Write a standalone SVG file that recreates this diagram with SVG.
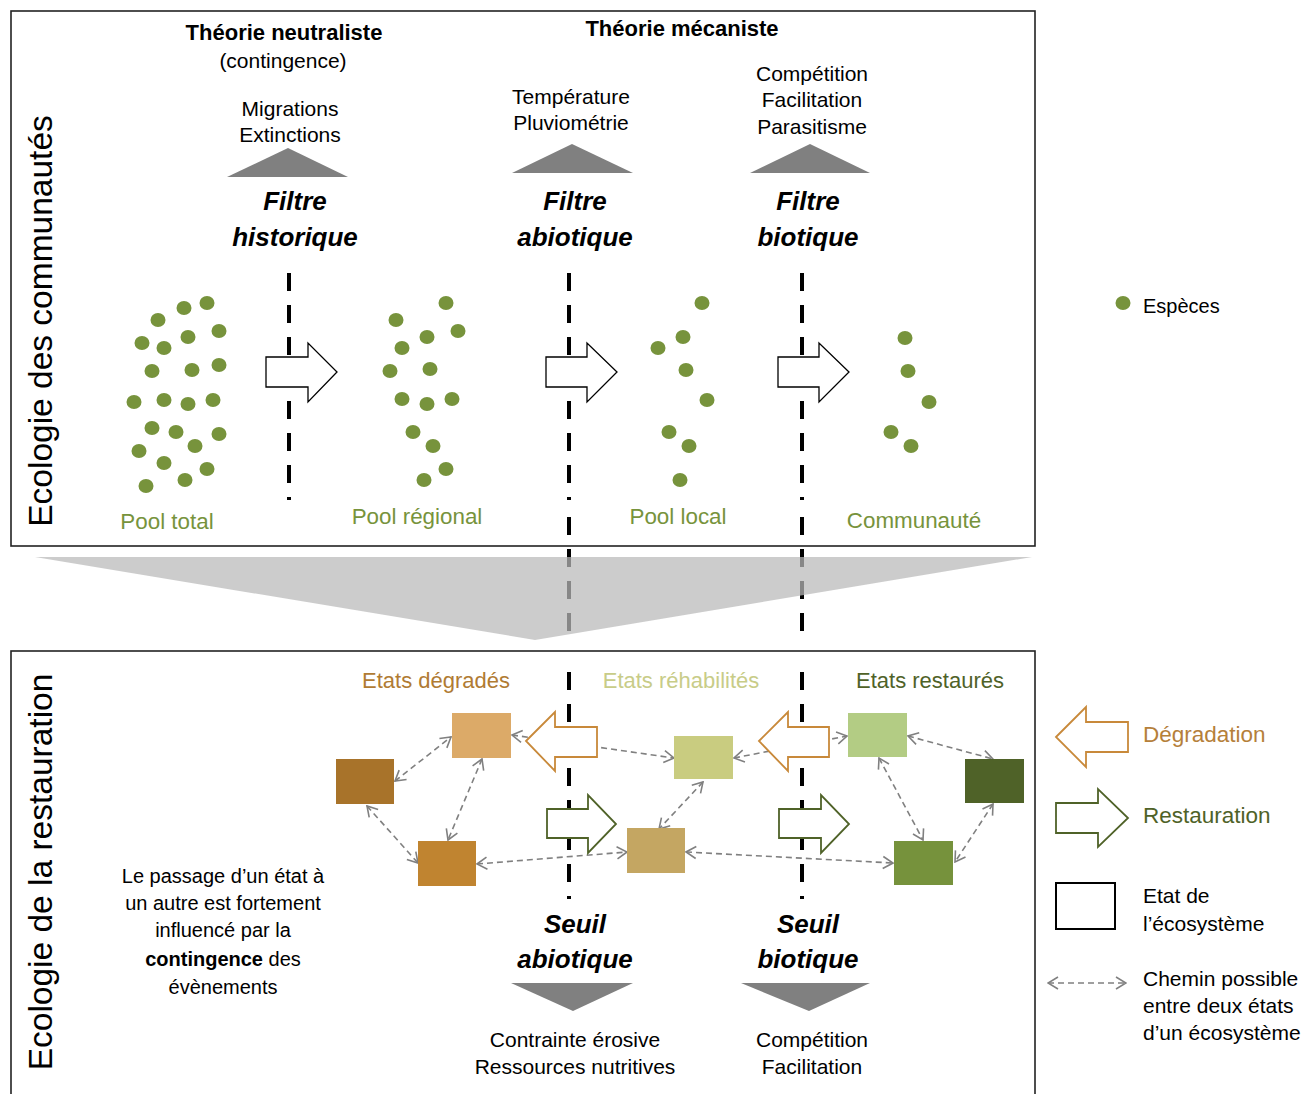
<svg xmlns="http://www.w3.org/2000/svg" width="1312" height="1094" viewBox="0 0 1312 1094">
<defs>
<style>
text{font-family:"Liberation Sans",Arial,sans-serif;fill:#000}
.t{font-size:21px}
.b{font-weight:bold}
.hb{font-size:22px;font-weight:bold}
.bi{font-weight:bold;font-style:italic;font-size:26px}
.c{text-anchor:middle}
.pool{font-size:22.4px;fill:#77933C}
.dot{fill:#77933C}
.filt{stroke:#000;stroke-width:4;stroke-dasharray:18 14;fill:none}
.tri{fill:#808080}
.hol{fill:#fff;stroke:#000;stroke-width:1.3}
.deg{fill:#fff;stroke:#C8893A;stroke-width:1.8}
.res{fill:#fff;stroke:#4F6228;stroke-width:1.8}
.path{stroke:#808080;stroke-width:1.6;stroke-dasharray:6 4;fill:none;marker-start:url(#v);marker-end:url(#v)}
.vert{font-size:33.5px}
.et{font-size:22px}
</style>
<marker id="v" viewBox="0 0 12 14" refX="11" refY="7" markerWidth="12" markerHeight="14" markerUnits="userSpaceOnUse" orient="auto-start-reverse">
<path d="M1,1 L11,7 L1,13" fill="none" stroke="#808080" stroke-width="1.6"/>
</marker>
</defs>

<!-- panels -->
<g id="panel-top">
<rect x="11" y="11" width="1024" height="535" fill="#fff" stroke="#222" stroke-width="1.6"/>
<text class="vert" transform="translate(52,321) rotate(-90)" text-anchor="middle">Ecologie des communautés</text>
</g>
<g id="panel-bottom">
<rect x="11" y="651" width="1024" height="460" fill="#fff" stroke="#222" stroke-width="1.6"/>
<text class="vert" transform="translate(52,872) rotate(-90)" text-anchor="middle">Ecologie de la restauration</text>
</g>

<!-- headers -->
<g id="theorie-neutraliste">
<text class="hb c" x="284" y="40">Théorie neutraliste</text>
<text class="t c" x="283" y="68">(contingence)</text>
</g>
<g id="theorie-mecaniste">
<text class="hb c" x="682" y="36">Théorie mécaniste</text>
</g>

<!-- filters -->
<g id="filtre-historique">
<text class="t c" x="290" y="116">Migrations</text>
<text class="t c" x="290" y="142">Extinctions</text>
<polygon class="tri" points="227,177 288,148 348,177"/>
<text class="bi c" x="295" y="210">Filtre</text>
<text class="bi c" x="295" y="246">historique</text>
</g>
<g id="filtre-abiotique">
<text class="t c" x="571" y="104">Température</text>
<text class="t c" x="571" y="130">Pluviométrie</text>
<polygon class="tri" points="512,173 572,144 633,173"/>
<text class="bi c" x="575" y="210">Filtre</text>
<text class="bi c" x="575" y="246">abiotique</text>
</g>
<g id="filtre-biotique">
<text class="t c" x="812" y="81">Compétition</text>
<text class="t c" x="812" y="107">Facilitation</text>
<text class="t c" x="812" y="134">Parasitisme</text>
<polygon class="tri" points="750,173 810,144 870,173"/>
<text class="bi c" x="808" y="210">Filtre</text>
<text class="bi c" x="808" y="246">biotique</text>
</g>

<!-- filter lines -->
<g id="connectors-filters">
<line class="filt" x1="289" y1="273" x2="289" y2="500"/>
<line class="filt" x1="569" y1="273" x2="569" y2="500"/>
<line class="filt" x1="802" y1="273" x2="802" y2="500"/>
<line class="filt" x1="569" y1="517" x2="569" y2="640"/>
<line class="filt" x1="802" y1="517" x2="802" y2="640"/>
<line class="filt" x1="569" y1="672" x2="569" y2="899"/>
<line class="filt" x1="802" y1="672" x2="802" y2="899"/>
</g>

<!-- funnel -->
<polygon id="funnel" points="35,557 1032,557 535,640" fill="#b9b9b9" fill-opacity="0.73"/>

<!-- top hollow arrows -->
<g id="connectors-top">
<polygon class="hol" points="266,357 308,357 308,343 337,372 308,402 308,387 266,387"/>
<polygon class="hol" points="546,357 587,357 587,343 617,372 587,402 587,387 546,387"/>
<polygon class="hol" points="778,357 819,357 819,343 849,372 819,402 819,387 778,387"/>
</g>

<!-- pools -->
<g id="pool-total">
<g class="dot">
<ellipse cx="207" cy="303" rx="7.5" ry="7"/><ellipse cx="184" cy="308" rx="7.5" ry="7"/><ellipse cx="158" cy="320" rx="7.5" ry="7"/>
<ellipse cx="219" cy="331" rx="7.5" ry="7"/><ellipse cx="188" cy="337" rx="7.5" ry="7"/><ellipse cx="142" cy="343" rx="7.5" ry="7"/>
<ellipse cx="164" cy="348" rx="7.5" ry="7"/><ellipse cx="219" cy="365" rx="7.5" ry="7"/><ellipse cx="192" cy="370" rx="7.5" ry="7"/>
<ellipse cx="152" cy="371" rx="7.5" ry="7"/><ellipse cx="134" cy="402" rx="7.5" ry="7"/><ellipse cx="164" cy="400" rx="7.5" ry="7"/>
<ellipse cx="188" cy="404" rx="7.5" ry="7"/><ellipse cx="213" cy="400" rx="7.5" ry="7"/><ellipse cx="152" cy="428" rx="7.5" ry="7"/>
<ellipse cx="176" cy="432" rx="7.5" ry="7"/><ellipse cx="219" cy="434" rx="7.5" ry="7"/><ellipse cx="195" cy="446" rx="7.5" ry="7"/>
<ellipse cx="139" cy="451" rx="7.5" ry="7"/><ellipse cx="164" cy="463" rx="7.5" ry="7"/><ellipse cx="207" cy="469" rx="7.5" ry="7"/>
<ellipse cx="185" cy="480" rx="7.5" ry="7"/><ellipse cx="146" cy="486" rx="7.5" ry="7"/>
</g>
<text class="pool c" x="167" y="529">Pool total</text>
</g>
<g id="pool-regional">
<g class="dot">
<ellipse cx="446" cy="303" rx="7.5" ry="7"/><ellipse cx="396" cy="320" rx="7.5" ry="7"/><ellipse cx="458" cy="331" rx="7.5" ry="7"/>
<ellipse cx="427" cy="337" rx="7.5" ry="7"/><ellipse cx="402" cy="348" rx="7.5" ry="7"/><ellipse cx="390" cy="371" rx="7.5" ry="7"/>
<ellipse cx="430" cy="369" rx="7.5" ry="7"/><ellipse cx="402" cy="399" rx="7.5" ry="7"/><ellipse cx="427" cy="404" rx="7.5" ry="7"/>
<ellipse cx="452" cy="399" rx="7.5" ry="7"/><ellipse cx="413" cy="432" rx="7.5" ry="7"/><ellipse cx="433" cy="446" rx="7.5" ry="7"/>
<ellipse cx="446" cy="469" rx="7.5" ry="7"/><ellipse cx="424" cy="480" rx="7.5" ry="7"/>
</g>
<text class="pool c" x="417" y="524">Pool régional</text>
</g>
<g id="pool-local">
<g class="dot">
<ellipse cx="702" cy="303" rx="7.5" ry="7"/><ellipse cx="683" cy="337" rx="7.5" ry="7"/><ellipse cx="658" cy="348" rx="7.5" ry="7"/>
<ellipse cx="686" cy="370" rx="7.5" ry="7"/><ellipse cx="707" cy="400" rx="7.5" ry="7"/><ellipse cx="669" cy="432" rx="7.5" ry="7"/>
<ellipse cx="689" cy="446" rx="7.5" ry="7"/><ellipse cx="680" cy="480" rx="7.5" ry="7"/>
</g>
<text class="pool c" x="678" y="524">Pool local</text>
</g>
<g id="communaute">
<g class="dot">
<ellipse cx="905" cy="338" rx="7.5" ry="7"/><ellipse cx="908" cy="371" rx="7.5" ry="7"/><ellipse cx="929" cy="402" rx="7.5" ry="7"/>
<ellipse cx="891" cy="432" rx="7.5" ry="7"/><ellipse cx="911" cy="446" rx="7.5" ry="7"/>
</g>
<text class="pool c" x="914" y="528">Communauté</text>
</g>

<!-- legend species -->
<g id="legend-especes">
<ellipse class="dot" cx="1123" cy="303" rx="7.5" ry="7"/>
<text x="1143" y="313" style="font-size:20px">Espèces</text>
</g>

<!-- bottom headings -->
<g id="headings-etats">
<text class="et c" x="436" y="688" style="fill:#B07B33">Etats dégradés</text>
<text class="et c" x="681" y="688" style="fill:#C8CC88">Etats réhabilités</text>
<text class="et c" x="930" y="688" style="fill:#4F6228">Etats restaurés</text>
</g>

<!-- state paths -->
<g id="connectors-states">
<line class="path" x1="395" y1="781" x2="451" y2="737"/>
<line class="path" x1="367" y1="806" x2="418" y2="863"/>
<line class="path" x1="482" y1="759" x2="448" y2="840"/>
<line class="path" x1="477" y1="864" x2="627" y2="852"/>
<line class="path" x1="512" y1="735" x2="674" y2="758"/>
<line class="path" x1="734" y1="758" x2="847" y2="736"/>
<line class="path" x1="703" y1="782" x2="659" y2="829"/>
<line class="path" x1="686" y1="852" x2="893" y2="863"/>
<line class="path" x1="908" y1="736" x2="993" y2="759"/>
<line class="path" x1="879" y1="758" x2="923" y2="840"/>
<line class="path" x1="993" y1="804" x2="955" y2="862"/>
</g>

<!-- states -->
<g id="etat-deg-1"><rect x="452" y="713" width="59" height="45" fill="#DCAA68"/></g>
<g id="etat-deg-2"><rect x="336" y="759" width="58" height="45" fill="#A8732A"/></g>
<g id="etat-deg-3"><rect x="418" y="841" width="58" height="45" fill="#C08430"/></g>
<g id="etat-reh-1"><rect x="674" y="736" width="59" height="43" fill="#C9CC80"/></g>
<g id="etat-reh-2"><rect x="627" y="828" width="58" height="45" fill="#C4A662"/></g>
<g id="etat-res-1"><rect x="848" y="713" width="59" height="44" fill="#B3CC84"/></g>
<g id="etat-res-2"><rect x="965" y="759" width="59" height="44" fill="#4F6228"/></g>
<g id="etat-res-3"><rect x="894" y="841" width="59" height="44" fill="#76923C"/></g>

<!-- big arrows -->
<g id="connectors-transitions">
<polygon class="deg" points="526,741 555,712 555,727 597,727 597,757 555,757 555,771"/>
<polygon class="deg" points="759,741 788,712 788,727 829,727 829,757 788,757 788,771"/>
<polygon class="res" points="547,809 588,809 588,795 616,824 588,853 588,838 547,838"/>
<polygon class="res" points="779,809 821,809 821,795 849,824 821,853 821,838 779,838"/>
</g>

<!-- left text -->
<g id="note-contingence">
<text class="c" x="223" y="883" style="font-size:20px">Le passage d’un état à</text>
<text class="c" x="223" y="910" style="font-size:20px">un autre est fortement</text>
<text class="c" x="223" y="937" style="font-size:20px">influencé par la</text>
<text class="c" x="223" y="966" style="font-size:20px"><tspan class="b">contingence</tspan> des</text>
<text class="c" x="223" y="994" style="font-size:20px">évènements</text>
</g>

<!-- seuils -->
<g id="seuil-abiotique">
<text class="bi c" x="575" y="933">Seuil</text>
<text class="bi c" x="575" y="968">abiotique</text>
<polygon class="tri" points="511,983 633,983 573,1011"/>
<text class="t c" x="575" y="1047">Contrainte érosive</text>
<text class="t c" x="575" y="1074">Ressources nutritives</text>
</g>
<g id="seuil-biotique">
<text class="bi c" x="808" y="933">Seuil</text>
<text class="bi c" x="808" y="968">biotique</text>
<polygon class="tri" points="741,983 870,983 809,1011"/>
<text class="t c" x="812" y="1047">Compétition</text>
<text class="t c" x="812" y="1074">Facilitation</text>
</g>

<!-- legend -->
<g id="legend-degradation">
<polygon class="deg" points="1056,737 1086,707 1086,722 1128,722 1128,752 1086,752 1086,767"/>
<text x="1143" y="742" style="font-size:22.5px;fill:#B5803A">Dégradation</text>
</g>
<g id="legend-restauration">
<polygon class="res" points="1056,803 1098,803 1098,789 1128,818 1098,847 1098,833 1056,833"/>
<text x="1143" y="823" style="font-size:22.5px;fill:#4F6228">Restauration</text>
</g>
<g id="legend-etat">
<rect x="1056" y="883" width="59" height="46" fill="#fff" stroke="#000" stroke-width="2"/>
<text class="t" x="1143" y="903">Etat de</text>
<text class="t" x="1143" y="931">l’écosystème</text>
</g>
<g id="legend-chemin">
<line class="path" x1="1048" y1="983" x2="1126" y2="983"/>
<text class="t" x="1143" y="986">Chemin possible</text>
<text class="t" x="1143" y="1013">entre deux états</text>
<text class="t" x="1143" y="1040">d’un écosystème</text>
</g>
</svg>
